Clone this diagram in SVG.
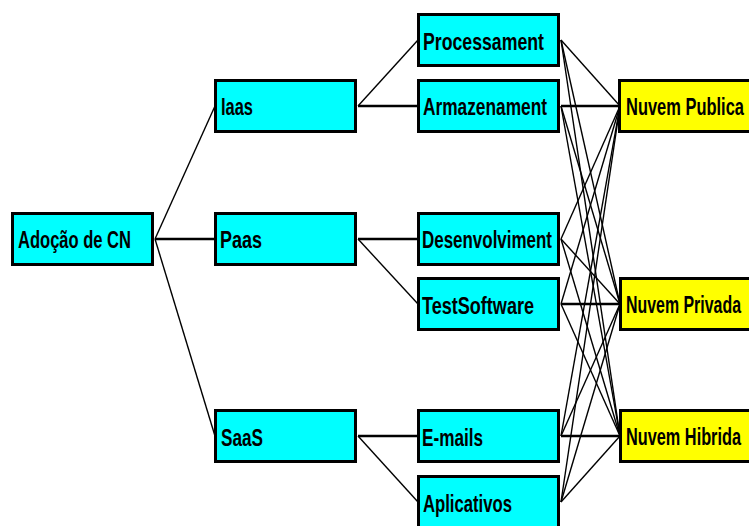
<svg xmlns="http://www.w3.org/2000/svg" width="749" height="526" viewBox="0 0 749 526">
<style>
.b{stroke:#000;stroke-width:3}
.c{fill:#00FFFF}
.y{fill:#FFFF00}
.t{font-family:"Liberation Sans","DejaVu Sans",Arial,sans-serif;font-size:24px;font-weight:bold;fill:#000}
.d{stroke:#000;stroke-width:1.4;fill:none}
.h{stroke:#000;stroke-width:2.6;fill:none}
</style>
<rect width="749" height="526" fill="#fff"/>
<g id="connectors">
<line class="d" x1="155" y1="239" x2="215" y2="106"/>
<line class="h" x1="155" y1="239" x2="215" y2="239"/>
<line class="d" x1="155" y1="239" x2="215" y2="436"/>
<line class="d" x1="358" y1="106" x2="418" y2="40"/>
<line class="h" x1="358" y1="106" x2="418" y2="106"/>
<line class="h" x1="358" y1="239" x2="418" y2="239"/>
<line class="d" x1="358" y1="239" x2="418" y2="304"/>
<line class="h" x1="358" y1="436" x2="418" y2="436"/>
<line class="d" x1="358" y1="436" x2="418" y2="502"/>
<g>
<line class="d" x1="561" y1="40" x2="620" y2="106"/>
<line class="d" x1="561" y1="40" x2="620" y2="304"/>
<line class="d" x1="561" y1="40" x2="620" y2="436"/>
<line class="h" x1="561" y1="106" x2="620" y2="106"/>
<line class="d" x1="561" y1="106" x2="620" y2="304"/>
<line class="d" x1="561" y1="106" x2="620" y2="436"/>
<line class="d" x1="561" y1="239" x2="620" y2="106"/>
<line class="d" x1="561" y1="239" x2="620" y2="304"/>
<line class="d" x1="561" y1="239" x2="620" y2="436"/>
<line class="d" x1="561" y1="304" x2="620" y2="106"/>
<line class="h" x1="561" y1="304" x2="620" y2="304"/>
<line class="d" x1="561" y1="304" x2="620" y2="436"/>
<line class="d" x1="561" y1="436" x2="620" y2="106"/>
<line class="d" x1="561" y1="436" x2="620" y2="304"/>
<line class="h" x1="561" y1="436" x2="620" y2="436"/>
<line class="d" x1="561" y1="502" x2="620" y2="106"/>
<line class="d" x1="561" y1="502" x2="620" y2="304"/>
<line class="d" x1="561" y1="502" x2="620" y2="436"/>
</g>
</g>
<g id="adocao"><rect class="b c" x="12.5" y="213.5" width="140" height="51"/><text class="t" x="18" y="248" textLength="113" lengthAdjust="spacingAndGlyphs">Adoção de CN</text></g>
<g id="iaas"><rect class="b c" x="215.5" y="80.5" width="140" height="51"/><text class="t" x="221" y="115" textLength="32" lengthAdjust="spacingAndGlyphs">Iaas</text></g>
<g id="paas"><rect class="b c" x="215.5" y="213.5" width="140" height="51"/><text class="t" x="220" y="248" textLength="42" lengthAdjust="spacingAndGlyphs">Paas</text></g>
<g id="saas"><rect class="b c" x="215.5" y="410.5" width="140" height="51"/><text class="t" x="221" y="446" textLength="42" lengthAdjust="spacingAndGlyphs">SaaS</text></g>
<g id="processament"><rect class="b c" x="418.5" y="14.5" width="140" height="51"/><text class="t" x="423" y="50" textLength="121" lengthAdjust="spacingAndGlyphs">Processament</text></g>
<g id="armazenament"><rect class="b c" x="418.5" y="80.5" width="140" height="51"/><text class="t" x="423" y="115" textLength="124" lengthAdjust="spacingAndGlyphs">Armazenament</text></g>
<g id="desenvolviment"><rect class="b c" x="418.5" y="213.5" width="140" height="51"/><text class="t" x="422" y="248" textLength="130" lengthAdjust="spacingAndGlyphs">Desenvolviment</text></g>
<g id="testsoftware"><rect class="b c" x="418.5" y="278.5" width="140" height="51"/><text class="t" x="422" y="314" textLength="112" lengthAdjust="spacingAndGlyphs">TestSoftware</text></g>
<g id="emails"><rect class="b c" x="418.5" y="410.5" width="140" height="51"/><text class="t" x="422" y="446" textLength="61" lengthAdjust="spacingAndGlyphs">E-mails</text></g>
<g id="aplicativos"><rect class="b c" x="418.5" y="476.5" width="140" height="51"/><text class="t" x="423" y="512" textLength="89" lengthAdjust="spacingAndGlyphs">Aplicativos</text></g>
<g id="publica"><rect class="b y" x="619.5" y="80.5" width="140" height="51"/><text class="t" x="626" y="115" textLength="118" lengthAdjust="spacingAndGlyphs">Nuvem Publica</text></g>
<g id="privada"><rect class="b y" x="620.5" y="278.5" width="140" height="51"/><text class="t" x="626" y="313" textLength="115" lengthAdjust="spacingAndGlyphs">Nuvem Privada</text></g>
<g id="hibrida"><rect class="b y" x="620.5" y="410.5" width="140" height="51"/><text class="t" x="626" y="445" textLength="115" lengthAdjust="spacingAndGlyphs">Nuvem Hibrida</text></g>
</svg>
